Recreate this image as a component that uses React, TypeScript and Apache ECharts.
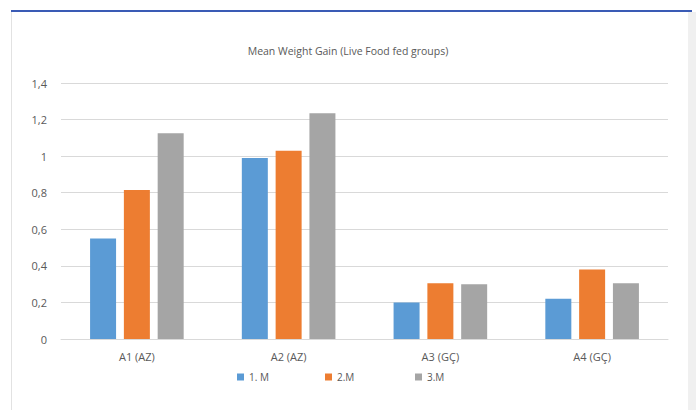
import React, { useEffect, useRef } from "react";
import * as echarts from "echarts";

const categories = ["A1 (AZ)", "A2 (AZ)", "A3 (GÇ)", "A4 (GÇ)"];
const seriesNames = ["1. M", "2.M", "3.M"];
const month1 = [0.55, 0.99, 0.2, 0.22];
const month2 = [0.815, 1.03, 0.305, 0.38];
const month3 = [1.125, 1.235, 0.3, 0.305];
const colors = ["#5b9bd5", "#ed7d31", "#a5a5a5"];
const titleText = "Mean Weight Gain (Live Food fed groups)";
const legendLefts = [232, 320, 410];

export default function App() {
  const ref = useRef<HTMLDivElement>(null);
  useEffect(() => {
    if (!ref.current) return;
    const chart = echarts.init(ref.current, null, { renderer: "svg" });
    const font = "'Open Sans', 'Noto Sans', sans-serif";
    const values = [month1, month2, month3];
    chart.setOption({
      animation: false,
      backgroundColor: "#ffffff",
      textStyle: { fontFamily: font },
      title: {
        text: titleText,
        left: "center",
        top: 40,
        textStyle: { fontSize: 10.5, fontWeight: "normal", color: "#595959", fontFamily: font },
      },
      graphic: [
        { type: "rect", shape: { x: 11, y: 10, width: 681, height: 2 }, style: { fill: "#3a5bb5" }, silent: true },
        { type: "rect", shape: { x: 11, y: 12, width: 1, height: 398 }, style: { fill: "#e2e2e2" }, silent: true },
        { type: "rect", shape: { x: 688, y: 12, width: 8, height: 398 }, style: { fill: "#f0f0f0" }, silent: true },
      ],
      legend: seriesNames.map((name, i) => ({
        data: [name],
        bottom: 23,
        left: legendLefts[i],
        itemWidth: 7,
        itemHeight: 7,
        itemGap: 4,
        icon: "rect",
        textStyle: { fontSize: 10, color: "#595959", fontFamily: font },
      })),
      grid: { left: 61, right: 28, top: 83, bottom: 71 },
      xAxis: {
        type: "category",
        data: categories,
        axisLine: { lineStyle: { color: "#d9d9d9" } },
        axisTick: { show: false },
        axisLabel: { color: "#595959", fontSize: 11, margin: 12, fontFamily: font },
      },
      yAxis: {
        type: "value",
        min: 0,
        max: 1.4,
        interval: 0.2,
        axisLine: { show: false },
        axisTick: { show: false },
        splitLine: { lineStyle: { color: "#d9d9d9" } },
        axisLabel: {
          color: "#595959",
          fontSize: 11,
          margin: 14,
          fontFamily: font,
          formatter: (v: number) => String(Math.round(v * 10) / 10).replace(".", ","),
        },
      },
      series: seriesNames.map((name, i) => ({
        name,
        type: "bar",
        data: values[i],
        barWidth: 26,
        barGap: "30%",
        itemStyle: { color: colors[i] },
      })),
    });
    return () => chart.dispose();
  }, []);
  return (
    <div
      ref={ref}
      style={{ position: "fixed", left: 0, top: 0, width: 696, height: 410 }}
    />
  );
}
